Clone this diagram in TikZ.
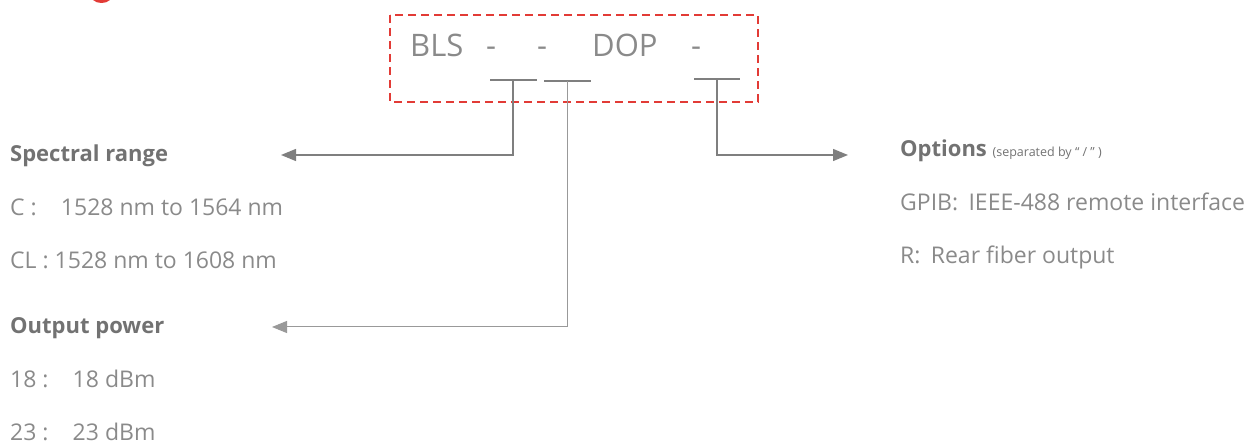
\documentclass[tikz,border=0pt]{standalone}
\usepackage{fontspec}
\setmainfont{Open Sans}
\usetikzlibrary{arrows.meta,positioning}
\definecolor{codegray}{HTML}{8A8A8A}
\definecolor{headgray}{HTML}{727272}
\definecolor{bargray}{HTML}{7F7F7F}
\definecolor{boxred}{HTML}{E23B36}
\begin{document}
\begin{tikzpicture}[
    x=1pt, y=-1pt,
    node distance=30pt,
    code/.style={text=codegray, font=\fontsize{31}{38}\selectfont, inner sep=0pt, anchor=base west},
    head/.style={text=headgray, font=\fontsize{22}{26}\selectfont\bfseries, inner sep=0pt, text height=17pt, text depth=6pt, anchor=base west},
    item/.style={text=codegray, font=\fontsize{23}{27}\selectfont, inner sep=0pt, text height=17pt, text depth=6pt},
    bar/.style={draw=bargray, line width=2pt},
    lead/.style={draw=bargray, line width=1.3pt},
    arr/.style={lead, -{Triangle[length=15pt,width=12pt]}}
  ]
    \useasboundingbox (0,0) rectangle (1256,446);
    % cut-off title at the top edge
    \fill[boxred] (93,0) .. controls (97,4) and (106,4) .. (110,0) -- cycle;
    % model code
    \draw[boxred, line width=1.8pt, dash pattern=on 8pt off 5pt] (390,15) rectangle (758,102);
    \node[code] (bls) at (410,57) {BLS};
    \node[code] (dashA) at (486,57) {-};
    \node[code] (dashB) at (537,57) {-};
    \node[code] (dop) at (592,57) {DOP};
    \node[code] (dashC) at (691,57) {-};
    \coordinate (f1) at (513,80);
    \coordinate (f2) at (567,81);
    \coordinate (f3) at (717,79);
    \draw[bar] ([xshift=-23pt]f1) -- ([xshift=24pt]f1);
    \draw[bar] ([xshift=-23pt]f2) -- ([xshift=24pt]f2);
    \draw[bar] ([xshift=-23pt]f3) -- ([xshift=23pt]f3);
    % left column
    \node[head] (spec) at (10,162) {Spectral range};
    \node[item, below right=30pt and 0pt of spec.south west] (specC) {C :\hspace{1.05em}1528 nm to 1564 nm};
    \node[item, below right=30pt and 0pt of specC.south west] (specCL) {CL : 1528 nm to 1608 nm};
    \node[head] (power) at (10,334) {Output power};
    \node[item, below right=30pt and 0pt of power.south west] (pow18) {18 :\hspace{1.05em}18 dBm};
    \node[item, below right=30pt and 0pt of pow18.south west] (pow23) {23 :\hspace{1.05em}23 dBm};
    % right column
    \node[head] (opt) at (900,157) {Options {\mdseries\fontsize{12.5}{15}\selectfont (separated by “ / ” )}};
    \node[item, below right=30pt and 0pt of opt.south west] (optG) {GPIB:\hspace{0.45em}IEEE-488 remote interface};
    \node[item, below right=30pt and 0pt of optG.south west] (optR) {R:\hspace{0.45em}Rear fiber output};
    % leaders
    \coordinate (specTip) at (281,155);
    \coordinate (powerTip) at (272,327);
    \coordinate (optTip) at (848,155);
    \draw[arr] (f1) |- (specTip);
    \draw[arr, line width=1pt, draw=gray!80] (f2) |- (powerTip);
    \draw[arr] (f3) |- (optTip);
  \end{tikzpicture}
\end{document}
